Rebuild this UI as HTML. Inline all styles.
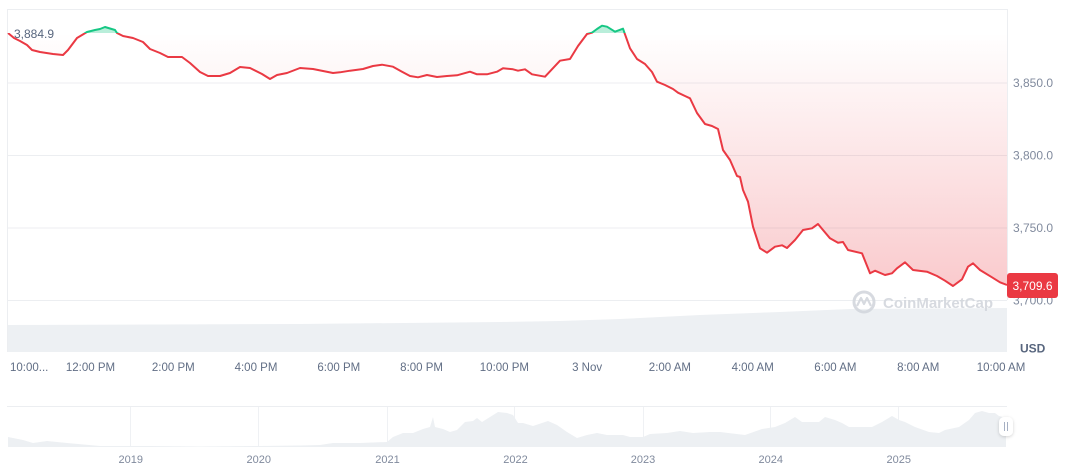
<!DOCTYPE html>
<html><head><meta charset="utf-8"><style>
html,body{margin:0;padding:0;background:#fff;}
svg{display:block;font-family:"Liberation Sans",Arial,sans-serif;}
</style></head><body>
<svg width="1072" height="470" viewBox="0 0 1072 470" xmlns="http://www.w3.org/2000/svg">
<defs>
<linearGradient id="rg" gradientUnits="userSpaceOnUse" x1="0" y1="33" x2="0" y2="300">
<stop offset="0" stop-color="#ea3943" stop-opacity="0"/>
<stop offset="1" stop-color="#ea3943" stop-opacity="0.28"/>
</linearGradient>
<clipPath id="below"><rect x="0" y="33" width="1072" height="300"/></clipPath>
<clipPath id="above"><rect x="0" y="0" width="1072" height="33"/></clipPath>
<filter id="sh" x="-50%" y="-50%" width="200%" height="200%"><feDropShadow dx="0" dy="1" stdDeviation="1.5" flood-color="#000" flood-opacity="0.18"/></filter>
</defs>

<!-- grid -->
<g stroke="#eceef1" stroke-width="1">
<line x1="7" y1="9.5" x2="1007" y2="9.5"/>
<line x1="7" y1="83" x2="1007" y2="83"/>
<line x1="7" y1="155.5" x2="1007" y2="155.5"/>
<line x1="7" y1="228" x2="1007" y2="228"/>
<line x1="7" y1="300.5" x2="1007" y2="300.5"/>
<line x1="7.5" y1="9" x2="7.5" y2="352"/>
<line x1="1007.5" y1="9" x2="1007.5" y2="300"/>
</g>

<!-- volume -->
<polygon fill="#edf0f3" points="8,325 300,324 500,322 560,321 620,319 700,315 780,312 850,309 1007,308 1007,352 8,352"/>

<!-- watermark -->
<g opacity="0.9">
<circle cx="864" cy="302" r="10" fill="none" stroke="#d3d7dd" stroke-width="3"/>
<path d="M857,306 L861,298 L864,304 L867,298 L871,306" fill="none" stroke="#d3d7dd" stroke-width="2.2" stroke-linejoin="round"/>
<text x="883" y="308" font-size="15" font-weight="bold" fill="#d3d7dd">CoinMarketCap</text>
</g>

<!-- price fill -->
<g id="pf">
<polygon clip-path="url(#below)" fill="url(#rg)" points="8,33 14,38 20,41 27,45 32,50 40,52 53,54 63,55 68,50 77,38 87,32 95,30 100,29 105,27 110,28.5 115,30 117,33 123,36 133,38 143,42 150,49 160,53 168,57 182,57 190,63 200,72 208,76 220,76 230,73 240,67 250,68 262,74 270,79 277,75 287,73 300,68 313,69 333,73 340,72.3 350,70.7 363,69 373,66 382,64.7 393,66.7 402,71.7 410,76 418,77.3 427,75 437,77 447,76 457,75.3 470,71.7 477,74.3 487,74.3 497,71.7 503,68.3 513,69.3 518,70.7 525,69.3 532,74.3 545,76.7 560,60.7 570,59 578,46 587,34 592,32.7 597,29 602,25.7 607,26.7 615,31.7 623,28.7 630,48.3 637,59 645,64 652,72 657,81.7 665,85 673,89 678,92.7 685,96 690,98.3 697,113 705,124 712,126 718,129 723,150 730,160 737,176 740,177 743,190 748,201.7 753,226.7 760,248.3 767,252.7 775,246.7 782,245.3 787,248 795,240 803,230 812,228.3 818,224 823,230 830,238.3 838,242.7 843,242 848,250 862,253.3 870,273.3 875,270.7 885,275 892,273.3 897,268.3 905,262.3 913,270 927,271.7 937,276 945,280.7 953,286 962,279.3 968,266.7 973,263.3 980,270 992,277.3 1000,282.3 1007,285 1007,33"/>
<polygon clip-path="url(#above)" fill="#16c784" fill-opacity="0.3" points="8,33 14,38 20,41 27,45 32,50 40,52 53,54 63,55 68,50 77,38 87,32 95,30 100,29 105,27 110,28.5 115,30 117,33 123,36 133,38 560,60.7 570,59 578,46 587,34 592,32.7 597,29 602,25.7 607,26.7 615,31.7 623,28.7 630,48.3 1007,33"/>
</g>

<!-- price line -->
<polyline clip-path="url(#below)" fill="none" stroke="#ea3943" stroke-width="2" stroke-linejoin="round" points="8,33 14,38 20,41 27,45 32,50 40,52 53,54 63,55 68,50 77,38 87,32 95,30 100,29 105,27 110,28.5 115,30 117,33 123,36 133,38 143,42 150,49 160,53 168,57 182,57 190,63 200,72 208,76 220,76 230,73 240,67 250,68 262,74 270,79 277,75 287,73 300,68 313,69 333,73 340,72.3 350,70.7 363,69 373,66 382,64.7 393,66.7 402,71.7 410,76 418,77.3 427,75 437,77 447,76 457,75.3 470,71.7 477,74.3 487,74.3 497,71.7 503,68.3 513,69.3 518,70.7 525,69.3 532,74.3 545,76.7 560,60.7 570,59 578,46 587,34 592,32.7 597,29 602,25.7 607,26.7 615,31.7 623,28.7 630,48.3 637,59 645,64 652,72 657,81.7 665,85 673,89 678,92.7 685,96 690,98.3 697,113 705,124 712,126 718,129 723,150 730,160 737,176 740,177 743,190 748,201.7 753,226.7 760,248.3 767,252.7 775,246.7 782,245.3 787,248 795,240 803,230 812,228.3 818,224 823,230 830,238.3 838,242.7 843,242 848,250 862,253.3 870,273.3 875,270.7 885,275 892,273.3 897,268.3 905,262.3 913,270 927,271.7 937,276 945,280.7 953,286 962,279.3 968,266.7 973,263.3 980,270 992,277.3 1000,282.3 1007,285"/>
<polyline clip-path="url(#above)" fill="none" stroke="#16c784" stroke-width="2" stroke-linejoin="round" points="77,38 87,32 95,30 100,29 105,27 110,28.5 115,30 117,33 123,36 578,46 587,34 592,32.7 597,29 602,25.7 607,26.7 615,31.7 623,28.7 630,48.3"/>

<!-- open price label -->
<text x="14" y="38" font-size="12" fill="#58667e">3,884.9</text>

<!-- y axis labels -->
<g font-size="12" fill="#808a9d">
<text x="1013" y="87">3,850.0</text>
<text x="1013" y="159.5">3,800.0</text>
<text x="1013" y="232">3,750.0</text>
<text x="1013" y="304.5">3,700.0</text>
</g>

<!-- current price -->
<rect x="1007" y="273" width="51" height="25" rx="3" fill="#ea3943"/>
<text x="1032.5" y="290" font-size="12" fill="#fff" text-anchor="middle">3,709.6</text>

<text x="1020" y="352.5" font-size="12" font-weight="bold" fill="#58667e">USD</text>

<!-- x axis labels -->
<g font-size="11.5" fill="#616e85" text-anchor="middle">
<text x="10" y="371" text-anchor="start">10:00...</text>
<text x="90.5" y="371">12:00 PM</text>
<text x="173.3" y="371">2:00 PM</text>
<text x="256" y="371">4:00 PM</text>
<text x="338.8" y="371">6:00 PM</text>
<text x="421.6" y="371">8:00 PM</text>
<text x="504.4" y="371">10:00 PM</text>
<text x="587.1" y="371">3 Nov</text>
<text x="669.9" y="371">2:00 AM</text>
<text x="752.7" y="371">4:00 AM</text>
<text x="835.4" y="371">6:00 AM</text>
<text x="918.2" y="371">8:00 AM</text>
<text x="1001" y="371">10:00 AM</text>
</g>

<!-- navigator -->
<line x1="7" y1="406.5" x2="1007" y2="406.5" stroke="#eceef1"/>
<g stroke="#eff1f4" stroke-width="1">
<line x1="130.5" y1="407" x2="130.5" y2="447"/>
<line x1="258.5" y1="407" x2="258.5" y2="447"/>
<line x1="387.5" y1="407" x2="387.5" y2="447"/>
<line x1="514.5" y1="407" x2="514.5" y2="447"/>
<line x1="643.5" y1="407" x2="643.5" y2="447"/>
<line x1="770.5" y1="407" x2="770.5" y2="447"/>
<line x1="898.5" y1="407" x2="898.5" y2="447"/>
</g>
<polygon fill="#edf0f3" points="8,437 13,438 23,440 33,443 40,442 47,441 67,443 100,446 150,446 200,446.5 260,446 300,445.5 320,445 333,443 360,443 387,442 393,437 403,433 413,433 423,429 430,427 433,417 435,427 443,429 450,432 457,430 465,422 473,421 477,418 482,422 490,417 498,412 507,413 513,415 518,423 523,423 533,426 542,423 548,421 557,425 567,432 577,438 587,435 597,433 607,435 623,435 630,437 643,437 650,434 667,433 680,431 693,433 710,432 720,432 745,435 762,429 775,427 785,423 795,417 802,422 812,422 819,422 825,417 835,420 842,423 849,427 859,427 872,427 882,422 892,416 899,420 905,422 915,427 929,432 939,433 945,430 959,427 969,420 975,413 982,411 989,413 995,413 999,416 1006,418 1006,447 8,447"/>

<g font-size="11" fill="#808a9d" text-anchor="middle">
<text x="130.8" y="463">2019</text>
<text x="258.8" y="463">2020</text>
<text x="387.5" y="463">2021</text>
<text x="515.5" y="463">2022</text>
<text x="643" y="463">2023</text>
<text x="770.8" y="463">2024</text>
<text x="898.8" y="463">2025</text>
</g>

<!-- handle -->
<rect x="999" y="417" width="14" height="19" rx="5" fill="#fff" filter="url(#sh)"/>
<line x1="1004.5" y1="422" x2="1004.5" y2="431" stroke="#a6b0c3" stroke-width="1"/>
<line x1="1007.5" y1="422" x2="1007.5" y2="431" stroke="#a6b0c3" stroke-width="1"/>
</svg>
</body></html>
